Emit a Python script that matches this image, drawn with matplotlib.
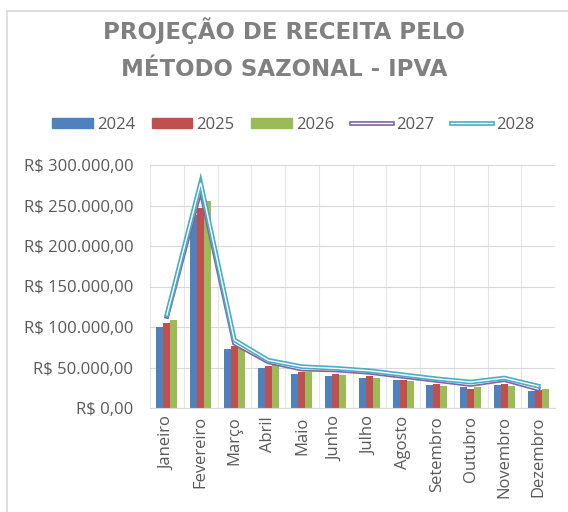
import matplotlib
matplotlib.use("Agg")
import matplotlib.pyplot as plt
from matplotlib.lines import Line2D
from matplotlib.patches import Patch, Rectangle
from matplotlib.ticker import FuncFormatter, MultipleLocator
import numpy as np

months = ["Janeiro", "Fevereiro", "Março", "Abril", "Maio", "Junho", "Julho",
          "Agosto", "Setembro", "Outubro", "Novembro", "Dezembro"]
v2024 = [100000, 238000, 73000, 49000, 42000, 39500, 37000, 34000, 29000, 25500, 28000, 21000]
v2025 = [105000, 247000, 76000, 52000, 45000, 42000, 39000, 35000, 30000, 24000, 30000, 22000]
v2026 = [109000, 255000, 79000, 54000, 44000, 41000, 37000, 33000, 27000, 25500, 27000, 23000]
v2027 = [113000, 270000, 80000, 57000, 48000, 47000, 44000, 39000, 34000, 29000, 35000, 23500]
v2028 = [115000, 278000, 84000, 59000, 51000, 49000, 46000, 41000, 36000, 32000, 37000, 27000]
title = "PROJEÇÃO DE RECEITA PELO\nMÉTODO SAZONAL - IPVA"

plt.rcParams['font.family'] = ['Open Sans', 'DejaVu Sans']

fig = plt.figure(figsize=(5.68, 5.12), dpi=100)
ax = fig.add_axes([150/568, 1-408/512, 405/568, 243/512])

x = np.arange(len(months))
bw = 0.205
cols = {"2024": "#4f81bd", "2025": "#c0504d", "2026": "#9bbb59",
        "2027": "#8064a2", "2028": "#4bacc6"}
ax.bar(x - bw, v2024, bw, color=cols["2024"], zorder=2)
ax.bar(x, v2025, bw, color=cols["2025"], zorder=2)
ax.bar(x + bw, v2026, bw, color=cols["2026"], zorder=2)

for vals, c in [(v2027, cols["2027"]), (v2028, cols["2028"])]:
    ax.plot(x, vals, color=c, lw=3.4, zorder=3, solid_joinstyle='miter')
    ax.plot(x, vals, color="white", lw=1.0, zorder=3, solid_joinstyle='miter')

ax.set_xlim(-0.5, len(months) - 0.5)
ax.set_ylim(0, 300000)
ax.yaxis.set_major_locator(MultipleLocator(50000))

def fmt(v, pos):
    s = f"{v:,.2f}".replace(",", "X").replace(".", ",").replace("X", ".")
    return "R$ " + s
ax.yaxis.set_major_formatter(FuncFormatter(fmt))
ax.set_xticks(x)
ax.set_xticklabels(months, rotation=90)
ax.tick_params(axis='both', length=0, labelsize=12, colors="#595959")
ax.tick_params(axis='y', pad=12)
ax.tick_params(axis='x', pad=6)

ax.grid(True, axis='y', color="#d9d9d9", lw=0.8, zorder=0)
for b in np.arange(-0.5, len(months) + 0.5, 1):
    ax.axvline(b, color="#e6e6e6", lw=0.8, zorder=0)
for s in ["top", "right", "left"]:
    ax.spines[s].set_visible(False)
ax.spines["bottom"].set_color("#d9d9d9")

fig.text(0.5, 1-49/512, title, ha="center", va="center", fontsize=16.5,
         fontweight="bold", color="#808080", linespacing=1.75, family="DejaVu Sans")

handles = [Patch(color=cols["2024"]), Patch(color=cols["2025"]), Patch(color=cols["2026"]),
           (Line2D([], [], color=cols["2027"], lw=3.4), Line2D([], [], color="white", lw=1.0)),
           (Line2D([], [], color=cols["2028"], lw=3.4), Line2D([], [], color="white", lw=1.0))]
fig.legend(handles, ["2024", "2025", "2026", "2027", "2028"], ncol=5,
           loc="center", bbox_to_anchor=(293/568, 1-125/512), frameon=False,
           fontsize=12, labelcolor="#595959", handlelength=2.45, handleheight=0.6,
           handletextpad=0.25, columnspacing=1.0)

fig.patches.append(Rectangle((7/568, -0.1), 1.2, 1 - 11/512 + 0.1, transform=fig.transFigure,
                             fill=False, edgecolor="#d9d9d9", lw=1.2))

fig.savefig("out.png", dpi=100)
